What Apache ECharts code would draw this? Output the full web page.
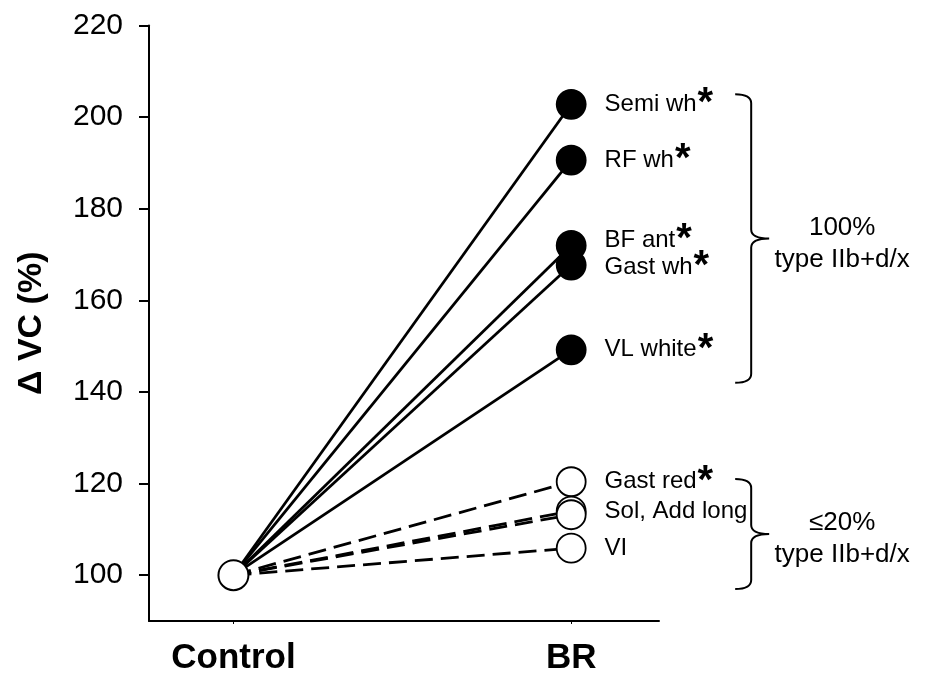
<!DOCTYPE html>
<html>
<head>
<meta charset="utf-8">
<script src="https://cdn.jsdelivr.net/npm/echarts@6/dist/echarts.min.js"></script>
<style>
  html, body { margin: 0; padding: 0; background: #fff; }
  #chart { width: 925px; height: 682px; }
</style>
</head>
<body>
<div id="chart"></div>
<script>
// Groups on the x axis (index = x position)
const groups = ['Control', 'BR'];
// Muscle regions, their BR values (% of control) and display labels
const muscles = ['Semi wh', 'RF wh', 'BF ant', 'Gast wh', 'VL white', 'Gast red', 'Sol', 'Add long', 'VI'];
const brValues = [202.8, 190.6, 172.0, 167.7, 149.2, 120.4, 114.0, 113.2, 105.9];
const controlValue = 100;
const pointLabels = ['Semi wh', 'RF wh', 'BF ant', 'Gast wh', 'VL white', 'Gast red', 'Sol, Add long', '', 'VI'];
const significant = [true, true, true, true, true, true, false, false, false];
const fastType = [true, true, true, true, true, false, false, false, false];
// Y axis tick labels
const yTicks = [100, 120, 140, 160, 180, 200, 220];
// Brace annotations: upper and lower bound of each bracket with its text
const braceTop = [205, 121];
const braceBottom = [142, 97];
const braceText = ['100%\ntype IIb+d/x', '\u226420%\ntype IIb+d/x'];

const FONT = '"Liberation Sans", Arial, sans-serif';

const chart = echarts.init(document.getElementById('chart'), null, { renderer: 'canvas' });

// Two labels of neighbouring points are nudged apart so they do not collide
function labelNudge(i) {
  if (i === 2) return [0, -5];
  if (i === 3) return [0, 2];
  return [0, 0];
}

const lineSeries = muscles.map((name, i) => {
  const filled = fastType[i];
  return {
    name: name,
    type: 'line',
    z: filled ? 3 : 2,
    symbol: 'circle',
    symbolSize: 29,
    itemStyle: { color: filled ? '#000' : '#fff', borderColor: '#000', borderWidth: 1.8 },
    lineStyle: { color: '#000', width: 2.8, type: filled ? 'solid' : [18, 8] },
    emphasis: { disabled: true },
    data: [
      { value: [0, controlValue], symbol: 'none' },
      {
        value: [1, brValues[i]],
        label: {
          show: pointLabels[i] !== '',
          position: 'right',
          distance: 18,
          offset: labelNudge(i),
          formatter: '{n|' + pointLabels[i] + '}' + (significant[i] ? '{s|*}' : ''),
          rich: {
            n: { fontSize: 24, fontFamily: FONT, color: '#000', lineHeight: 28 },
            // large bold asterisk, sits high like a superscript
            s: { fontSize: 40, fontWeight: 'bold', fontFamily: FONT, color: '#000', lineHeight: 28, padding: [0, 0, 0, 1] }
          }
        }
      }
    ]
  };
});

const controlSeries = {
  name: 'Control',
  type: 'scatter',
  z: 10,
  symbol: 'circle',
  symbolSize: 30,
  itemStyle: { color: '#fff', borderColor: '#000', borderWidth: 2, opacity: 1 },
  emphasis: { disabled: true },
  data: [[0, controlValue]]
};

const braceSeries = {
  type: 'custom',
  clip: false,
  z: 5,
  silent: true,
  data: braceTop.map((t, i) => [1, t, braceBottom[i], i]),
  renderItem: function (params, api) {
    const xBar = api.coord([api.value(0), 100])[0] + 180;
    const yT = api.coord([0, api.value(1)])[1];
    const yB = api.coord([0, api.value(2)])[1];
    const yM = (yT + yB) / 2;
    const hook = 16, tip = 18, r = 9;
    const path = [
      'M', xBar - hook, yT,
      'Q', xBar, yT, xBar, yT + r,
      'L', xBar, yM - r,
      'Q', xBar, yM, xBar + tip, yM,
      'Q', xBar, yM, xBar, yM + r,
      'L', xBar, yB - r,
      'Q', xBar, yB, xBar - hook, yB
    ].join(' ');
    return {
      type: 'group',
      children: [
        {
          type: 'path',
          shape: { pathData: path },
          style: { fill: null, stroke: '#000', lineWidth: 2 }
        },
        {
          type: 'text',
          style: {
            text: braceText[api.value(3)],
            x: xBar + tip + 73,
            y: yM + 5,
            align: 'center',
            verticalAlign: 'middle',
            fontSize: 26,
            fontFamily: FONT,
            lineHeight: 32,
            fill: '#000'
          }
        }
      ]
    };
  }
};

chart.setOption({
  animation: false,
  backgroundColor: '#fff',
  grid: { left: 149, right: 266, top: 25.5, bottom: 61, containLabel: false },
  xAxis: {
    type: 'value',
    min: -0.25,
    max: 1.26,
    splitLine: { show: false },
    axisLine: { show: true, onZero: false, lineStyle: { color: '#000', width: 2 } },
    axisTick: { show: true, length: 3, customValues: groups.map((g, i) => i), lineStyle: { color: '#000' } },
    axisLabel: {
      customValues: groups.map((g, i) => i),
      formatter: v => groups[Math.round(v)] || '',
      margin: 20,
      fontSize: 35,
      fontWeight: 'bold',
      fontFamily: FONT,
      color: '#000'
    }
  },
  yAxis: {
    type: 'value',
    min: 90,
    max: 220,
    name: '\u0394 VC (%)',
    nameLocation: 'middle',
    nameGap: 100,
    nameTextStyle: { fontSize: 34, fontWeight: 'bold', fontFamily: FONT, color: '#000' },
    splitLine: { show: false },
    axisLine: { show: true, onZero: false, lineStyle: { color: '#000', width: 2 } },
    axisTick: { show: true, length: 10, customValues: yTicks, lineStyle: { color: '#000', width: 2 } },
    axisLabel: {
      customValues: yTicks,
      margin: 26,
      fontSize: 30,
      fontFamily: FONT,
      color: '#000'
    }
  },
  series: lineSeries.concat([controlSeries, braceSeries])
});
</script>
</body>
</html>
